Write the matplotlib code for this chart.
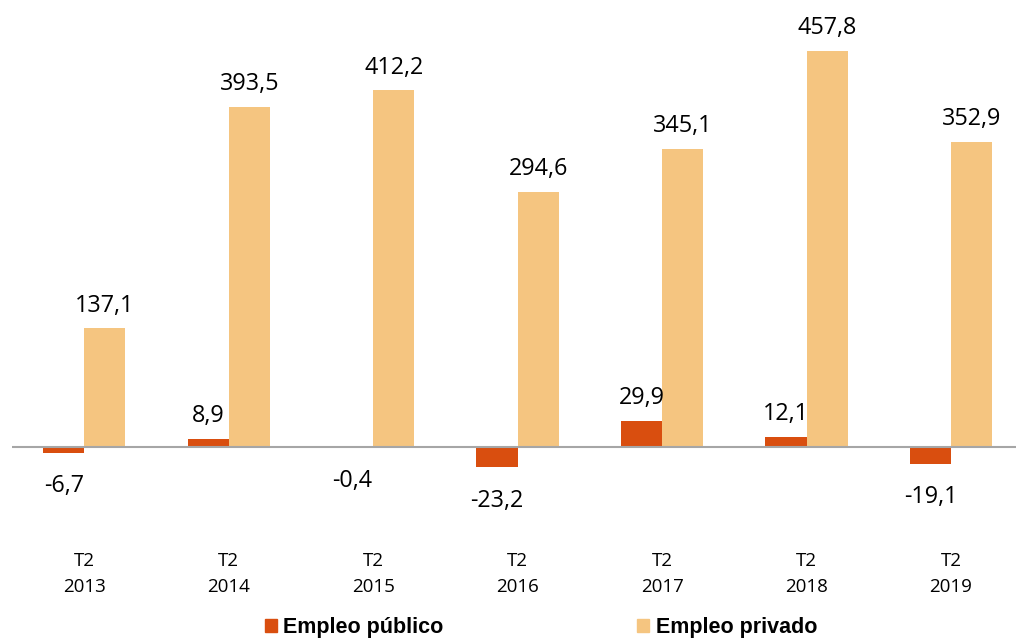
import matplotlib
matplotlib.use("Agg")
import matplotlib.pyplot as plt
from matplotlib.patches import Patch
import numpy as np

categories = ["T2\n2013", "T2\n2014", "T2\n2015", "T2\n2016", "T2\n2017", "T2\n2018", "T2\n2019"]
publico = [-6.7, 8.9, -0.4, -23.2, 29.9, 12.1, -19.1]
privado = [137.1, 393.5, 412.2, 294.6, 345.1, 457.8, 352.9]

c_pub = "#D94E0F"
c_priv = "#F5C580"

W, H = 1016, 639
fig = plt.figure(figsize=(W / 100, H / 100), dpi=100)
ax = fig.add_axes([12 / W, 1 - 540 / H, (1016 - 12) / W, 540 / H])

x = np.arange(len(categories))
bw = 0.285
ax.bar(x - bw / 2, publico, bw, color=c_pub)
ax.bar(x + bw / 2, privado, bw, color=c_priv)

ax.axhline(0, color="#A6A6A6", lw=1.5, zorder=3)

def fmt(v):
    return f"{v:.1f}".replace(".", ",")

lab_font = "Open Sans"
for xi, v in zip(x - bw / 2, publico):
    off = 16.5 if v >= 0 else -24.2
    ax.annotate(fmt(v), (xi, v), xytext=(0, off), textcoords="offset points",
                ha="center", va="center", fontsize=16.8, family=lab_font, color="black")
for xi, v in zip(x + bw / 2, privado):
    ax.annotate(fmt(v), (xi, v), xytext=(0, 16.5), textcoords="offset points",
                ha="center", va="center", fontsize=16.8, family=lab_font, color="black")

ax.set_xlim(-0.5, 6.45)
ax.set_ylim(-107.5, 516.8)
ax.set_xticks(x)
ax.set_xticklabels(categories, fontsize=13.5, family=lab_font, linespacing=1.55)
ax.tick_params(axis="x", length=0, pad=9)
ax.set_yticks([])
for s in ax.spines.values():
    s.set_visible(False)

handles = [Patch(color=c_pub, label="Empleo público"), Patch(color=c_priv, label="Empleo privado")]
fig.legend(handles=handles, loc="center", bbox_to_anchor=(541 / W, 1 - 628 / H), ncol=2,
           frameon=False, prop={"family": "Liberation Sans", "weight": "bold", "size": 15.5},
           handlelength=0.56, handleheight=0.56, handletextpad=0.3, columnspacing=9.0,
           borderpad=0, borderaxespad=0)

fig.savefig("out.png", dpi=100)
